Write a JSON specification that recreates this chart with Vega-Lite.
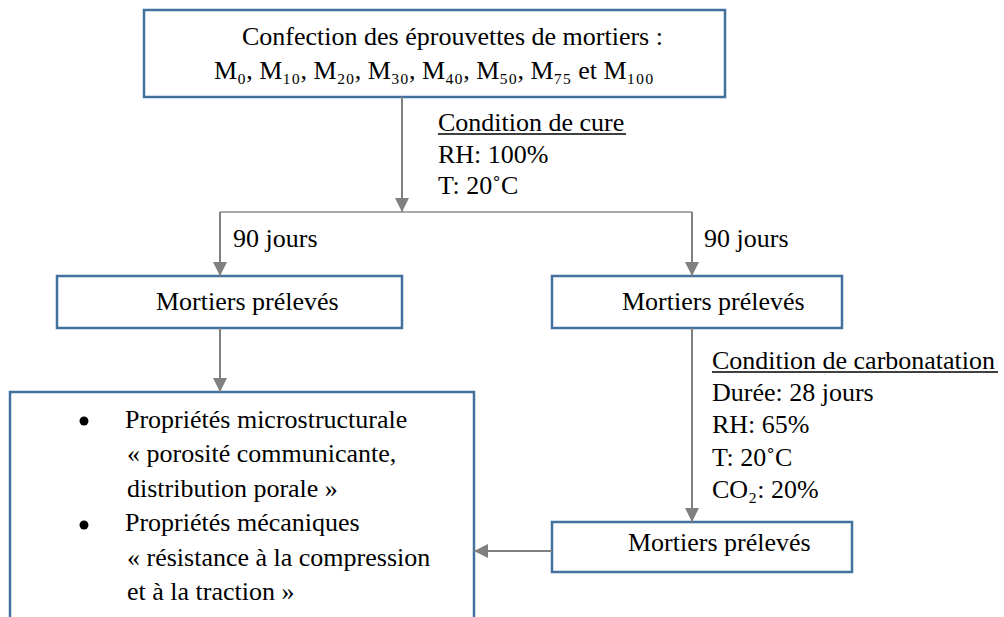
{
  "$schema": "https://vega.github.io/schema/vega-lite/v6.json",
  "autosize": {"type": "fit", "contains": "padding"},
  "width": 1004,
  "height": 617,
  "padding": 0,
  "background": "white",
  "config": {"view": {"stroke": null}},
  "datasets": {
    "boxes": [
      {"node": "Confection", "x": 144, "x2": 725, "y": 10, "y2": 97},
      {"node": "Prélevés gauche", "x": 57, "x2": 402, "y": 276, "y2": 328},
      {"node": "Prélevés droite", "x": 552, "x2": 842, "y": 276, "y2": 328},
      {"node": "Propriétés", "x": 10, "x2": 474, "y": 392, "y2": 680},
      {"node": "Prélevés carbonatés", "x": 552, "x2": 852, "y": 522, "y2": 572}
    ],
    "links": [
      {"x": 402, "x2": 402, "y": 97, "y2": 212},
      {"x": 220, "x2": 220, "y": 212, "y2": 276},
      {"x": 692, "x2": 692, "y": 212, "y2": 276},
      {"x": 220, "x2": 220, "y": 328, "y2": 392},
      {"x": 692, "x2": 692, "y": 328, "y2": 522},
      {"x": 552, "x2": 474, "y": 551, "y2": 551}
    ],
    "splits": [
      {"x": 220, "x2": 692, "y": 212}
    ],
    "heads": [
      {"x": 402, "y": 212, "dir": "down"},
      {"x": 220, "y": 276, "dir": "down"},
      {"x": 692, "y": 276, "dir": "down"},
      {"x": 220, "y": 392, "dir": "down"},
      {"x": 692, "y": 522, "dir": "down"},
      {"x": 474, "y": 551, "dir": "left"}
    ],
    "underlines": [
      {"x": 438, "x2": 626, "y": 134},
      {"x": 712, "x2": 998, "y": 372}
    ],
    "bullets": [
      {"x": 84, "y": 421},
      {"x": 84, "y": 525}
    ],
    "labels": [
      {"text": "Confection des éprouvettes de mortiers :", "x": 242, "y": 45},
      {"text": "M₀, M₁₀, M₂₀, M₃₀, M₄₀, M₅₀, M₇₅ et M₁₀₀", "x": 214, "y": 79},
      {"text": "Condition de cure", "x": 438, "y": 131},
      {"text": "RH: 100%", "x": 438, "y": 163},
      {"text": "T: 20˚C", "x": 438, "y": 194},
      {"text": "90 jours", "x": 233, "y": 247},
      {"text": "90 jours", "x": 704, "y": 247},
      {"text": "Mortiers prélevés", "x": 156, "y": 310},
      {"text": "Mortiers prélevés", "x": 622, "y": 310},
      {"text": "Condition de carbonatation", "x": 712, "y": 369},
      {"text": "Durée: 28 jours", "x": 712, "y": 401},
      {"text": "RH: 65%", "x": 712, "y": 433},
      {"text": "T: 20˚C", "x": 712, "y": 466},
      {"text": "CO₂: 20%", "x": 712, "y": 498},
      {"text": "Propriétés microstructurale", "x": 125, "y": 428},
      {"text": "« porosité communicante,", "x": 127, "y": 462},
      {"text": "distribution porale »", "x": 127, "y": 497},
      {"text": "Propriétés mécaniques", "x": 125, "y": 531},
      {"text": "« résistance à la compression", "x": 127, "y": 566},
      {"text": "et à la traction »", "x": 127, "y": 600},
      {"text": "Mortiers prélevés", "x": 628, "y": 551}
    ]
  },
  "layer": [
    {
      "data": {"name": "boxes"},
      "mark": {"type": "rect", "fill": "white", "stroke": "#41719C", "strokeWidth": 2.5, "clip": true},
      "encoding": {
        "x": {"field": "x", "type": "quantitative", "scale": {"domain": [0, 1004], "nice": false, "zero": false}, "axis": null},
        "x2": {"field": "x2"},
        "y": {"field": "y", "type": "quantitative", "scale": {"domain": [0, 617], "nice": false, "zero": false, "reverse": true}, "axis": null},
        "y2": {"field": "y2"}
      }
    },
    {
      "data": {"name": "links"},
      "mark": {"type": "rule", "color": "#808080", "strokeWidth": 2},
      "encoding": {
        "x": {"field": "x", "type": "quantitative", "axis": null},
        "x2": {"field": "x2"},
        "y": {"field": "y", "type": "quantitative", "axis": null},
        "y2": {"field": "y2"}
      }
    },
    {
      "data": {"name": "splits"},
      "mark": {"type": "rule", "color": "#8c8c8c", "strokeWidth": 1.5},
      "encoding": {
        "x": {"field": "x", "type": "quantitative", "axis": null},
        "x2": {"field": "x2"},
        "y": {"field": "y", "type": "quantitative", "axis": null}
      }
    },
    {
      "data": {"name": "heads"},
      "mark": {"type": "point", "filled": true, "color": "#808080", "opacity": 1, "size": 784, "strokeWidth": 0},
      "encoding": {
        "x": {"field": "x", "type": "quantitative", "axis": null},
        "y": {"field": "y", "type": "quantitative", "axis": null},
        "shape": {"field": "dir", "type": "nominal", "scale": {"domain": ["down", "left"], "range": ["M0,0L-0.5,-1L0.5,-1Z", "M0,0L1,-0.5L1,0.5Z"]}, "legend": null}
      }
    },
    {
      "data": {"name": "bullets"},
      "mark": {"type": "point", "shape": "circle", "filled": true, "color": "black", "opacity": 1, "size": 80, "strokeWidth": 0},
      "encoding": {
        "x": {"field": "x", "type": "quantitative", "axis": null},
        "y": {"field": "y", "type": "quantitative", "axis": null}
      }
    },
    {
      "data": {"name": "underlines"},
      "mark": {"type": "rule", "color": "black", "strokeWidth": 1.5},
      "encoding": {
        "x": {"field": "x", "type": "quantitative", "axis": null},
        "x2": {"field": "x2"},
        "y": {"field": "y", "type": "quantitative", "axis": null}
      }
    },
    {
      "data": {"name": "labels"},
      "mark": {"type": "text", "font": "Liberation Serif", "fontSize": 26, "align": "left", "baseline": "alphabetic", "color": "black"},
      "encoding": {
        "x": {"field": "x", "type": "quantitative", "axis": null},
        "y": {"field": "y", "type": "quantitative", "axis": null},
        "text": {"field": "text"}
      }
    }
  ]
}
